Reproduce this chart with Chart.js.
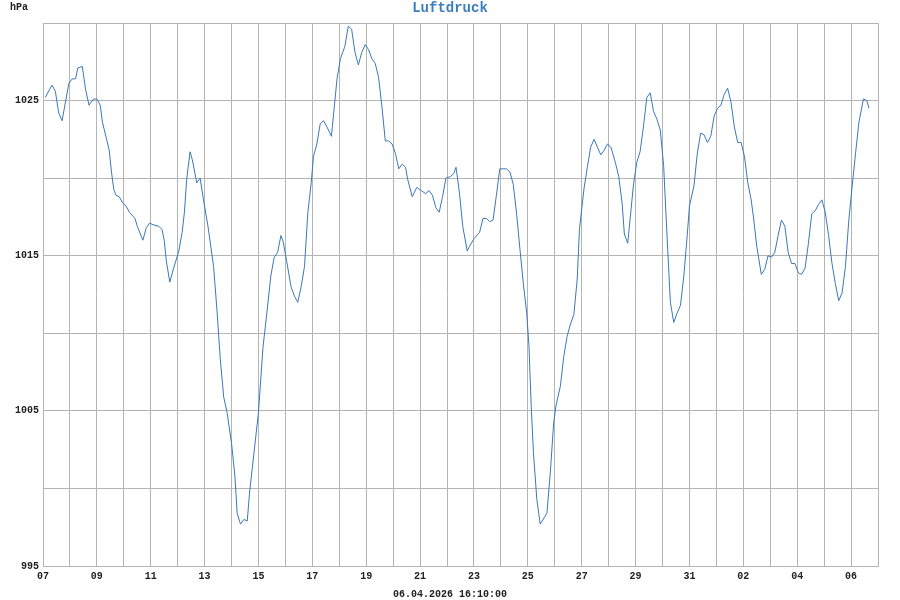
<!DOCTYPE html>
<html>
<head>
<meta charset="utf-8">
<script src="https://cdn.jsdelivr.net/npm/chart.js@4"></script>
<style>
  body { margin: 0; background: #fff; }
  #wrap { width: 900px; height: 600px; }
</style>
</head>
<body>
<div id="wrap"><canvas id="chart" width="900" height="600"></canvas></div>
<script>
// Stunden seit 07.03. 00:00
const stunden = [
  2, 8, 11, 14, 17, 23, 26, 29, 31, 35, 38, 41, 45, 48, 51, 53, 56, 59, 61, 63,
  65, 68, 71, 74, 77, 82, 84, 89, 92, 95, 98, 103, 106, 108, 110, 113, 116, 121, 124, 126,
  128, 131, 133, 137, 140, 143, 147, 152, 155, 158, 161, 164, 168, 171, 173, 176, 179, 182, 184, 188,
  192, 196, 199, 203, 206, 209, 212, 214, 217, 221, 224, 227, 230, 233, 236, 239, 241, 244, 247, 250,
  253, 257, 259, 262, 265, 269, 272, 275, 278, 281, 284, 287, 290, 293, 296, 299, 302, 305, 308, 311,
  314, 317, 320, 323, 325, 329, 333, 337, 341, 344, 347, 350, 353, 356, 359, 363, 366, 368, 371, 374,
  378, 380, 384, 389, 392, 395, 398, 401, 404, 407, 410, 413, 416, 419, 422, 425, 428, 431, 433, 435,
  437, 440, 443, 449, 452, 455, 457, 461, 464, 467, 470, 473, 476, 478, 482, 485, 488, 491, 494, 497,
  500, 503, 506, 510, 513, 516, 518, 521, 524, 526, 529, 532, 535, 538, 541, 544, 547, 550, 553, 556,
  559, 562, 565, 568, 571, 574, 576, 580, 583, 586, 589, 592, 595, 598, 601, 604, 607, 610, 613, 616,
  619, 622, 625, 628, 631, 633, 636, 640, 643, 646, 649, 652, 655, 658, 661, 664, 667, 670, 673, 676,
  679, 682, 685, 688, 691, 694, 697, 700, 703, 706, 709, 712, 715, 718, 721, 724, 727, 731, 734, 736
];

// hPa
const luftdruck = [
  1025.2, 1026.0, 1025.6, 1024.2, 1023.7, 1026.1, 1026.4, 1026.4, 1027.1, 1027.2, 1025.7, 1024.7, 1025.1, 1025.1, 1024.7, 1023.6, 1022.7, 1021.8, 1020.4, 1019.3,
  1018.9, 1018.8, 1018.4, 1018.2, 1017.8, 1017.4, 1016.9, 1016.0, 1016.8, 1017.1, 1017.0, 1016.9, 1016.7, 1016.0, 1014.6, 1013.3, 1014.1, 1015.3, 1016.5, 1017.8,
  1019.9, 1021.7, 1021.2, 1019.7, 1020.0, 1018.6, 1016.9, 1014.3, 1011.5, 1008.3, 1005.9, 1004.9, 1002.9, 1000.8, 998.4, 997.7, 998.0, 997.9, 999.7, 1002.3,
  1004.9, 1009.1, 1011.0, 1013.7, 1014.9, 1015.2, 1016.3, 1015.9, 1014.7, 1013.0, 1012.4, 1012.0, 1013.0, 1014.3, 1017.8, 1019.7, 1021.4, 1022.2, 1023.5, 1023.7,
  1023.3, 1022.7, 1024.2, 1026.4, 1027.7, 1028.5, 1029.8, 1029.6, 1028.1, 1027.3, 1028.1, 1028.6, 1028.3, 1027.7, 1027.4, 1026.5, 1024.6, 1022.4, 1022.4, 1022.2,
  1021.6, 1020.6, 1020.9, 1020.7, 1019.9, 1018.8, 1019.4, 1019.2, 1019.0, 1019.2, 1018.9, 1018.1, 1017.8, 1018.8, 1020.0, 1020.1, 1020.3, 1020.7, 1019.1, 1016.9,
  1015.3, 1015.6, 1016.1, 1016.5, 1017.4, 1017.4, 1017.2, 1017.3, 1018.9, 1020.6, 1020.6, 1020.6, 1020.4, 1019.6, 1017.7, 1015.4, 1013.2, 1011.3, 1009.2, 1005.3,
  1002.3, 999.3, 997.7, 998.4, 1001.0, 1004.2, 1005.3, 1006.6, 1008.5, 1009.8, 1010.6, 1011.2, 1013.5, 1016.7, 1019.3, 1020.7, 1022.0, 1022.5, 1022.0, 1021.5,
  1021.8, 1022.2, 1022.0, 1021.0, 1020.1, 1018.4, 1016.4, 1015.8, 1018.0, 1019.5, 1021.0, 1021.7, 1023.3, 1025.2, 1025.5, 1024.3, 1023.8, 1023.1, 1020.8, 1016.3,
  1012.0, 1010.7, 1011.3, 1011.8, 1013.7, 1016.3, 1018.2, 1019.5, 1021.6, 1022.9, 1022.8, 1022.3, 1022.7, 1024.0, 1024.5, 1024.7, 1025.4, 1025.8, 1024.9, 1023.3,
  1022.3, 1022.3, 1021.4, 1019.7, 1018.6, 1017.5, 1015.6, 1013.8, 1014.1, 1015.0, 1014.9, 1015.2, 1016.3, 1017.3, 1016.9, 1015.2, 1014.5, 1014.5, 1013.9, 1013.8,
  1014.2, 1015.8, 1017.7, 1017.9, 1018.3, 1018.6, 1017.8, 1016.3, 1014.5, 1013.2, 1012.1, 1012.6, 1014.3, 1017.3, 1019.5, 1021.6, 1023.6, 1025.1, 1025.0, 1024.5
];

const startTag   = 7;    // 07.03.
const monatTage  = 31;   // Maerz
const yBeschrift = [995, 1005, 1015, 1025];
const titel      = 'Luftdruck';
const einheit    = 'hPa';
const stand      = '06.04.2026 16:10:00';

const MONO  = '"Liberation Mono", "DejaVu Sans Mono", monospace';
const GRID  = '#b4b4b4';
const LINIE = '#3a78b8';

function tagLabel(h) {
  const d = Math.round(h / 24);
  if (d % 2 !== 0) return '';
  let tag = startTag + d;
  if (tag > monatTage) tag -= monatTage;
  return String(tag).padStart(2, '0');
}

const texte = {
  id: 'texte',
  afterDraw(chart) {
    const ctx = chart.ctx;
    ctx.save();
    ctx.textBaseline = 'middle';

    ctx.font = 'bold 14px ' + MONO;
    ctx.fillStyle = '#3c7fc0';
    ctx.textAlign = 'center';
    ctx.fillText(titel, 450, 8);

    ctx.font = 'bold 10px ' + MONO;
    ctx.fillStyle = '#222';
    ctx.textAlign = 'left';
    ctx.fillText(einheit, 10, 7);

    ctx.textAlign = 'center';
    ctx.fillText(stand, 450, 594);
    ctx.restore();
  }
};

new Chart(document.getElementById('chart'), {
  type: 'line',
  data: {
    datasets: [{
      data: stunden.map((h, i) => ({ x: h, y: luftdruck[i] })),
      borderColor: LINIE,
      borderWidth: 1,
      pointRadius: 0,
      tension: 0,
      fill: false
    }]
  },
  options: {
    responsive: false,
    animation: false,
    layout: { padding: { top: 23, right: 22, left: 0, bottom: 0 } },
    plugins: {
      legend: { display: false },
      tooltip: { enabled: false }
    },
    scales: {
      x: {
        type: 'linear',
        min: 0,
        max: 744,
        afterFit: s => { s.height = 34; },
        grid: { color: GRID, drawTicks: false, lineWidth: 1 },
        border: { color: GRID },
        ticks: {
          stepSize: 24,
          autoSkip: false,
          maxRotation: 0,
          padding: 4,
          color: '#222',
          font: { family: MONO, size: 10, weight: 'bold' },
          callback: v => tagLabel(v)
        }
      },
      y: {
        min: 995,
        max: 1030,
        afterFit: s => { s.width = 43; },
        grid: { color: GRID, drawTicks: false, lineWidth: 1 },
        border: { color: GRID },
        ticks: {
          stepSize: 5,
          padding: 4,
          color: '#222',
          font: { family: MONO, size: 10, weight: 'bold' },
          callback: v => yBeschrift.includes(v) ? String(v) : ''
        }
      }
    }
  },
  plugins: [texte]
});
</script>
</body>
</html>
